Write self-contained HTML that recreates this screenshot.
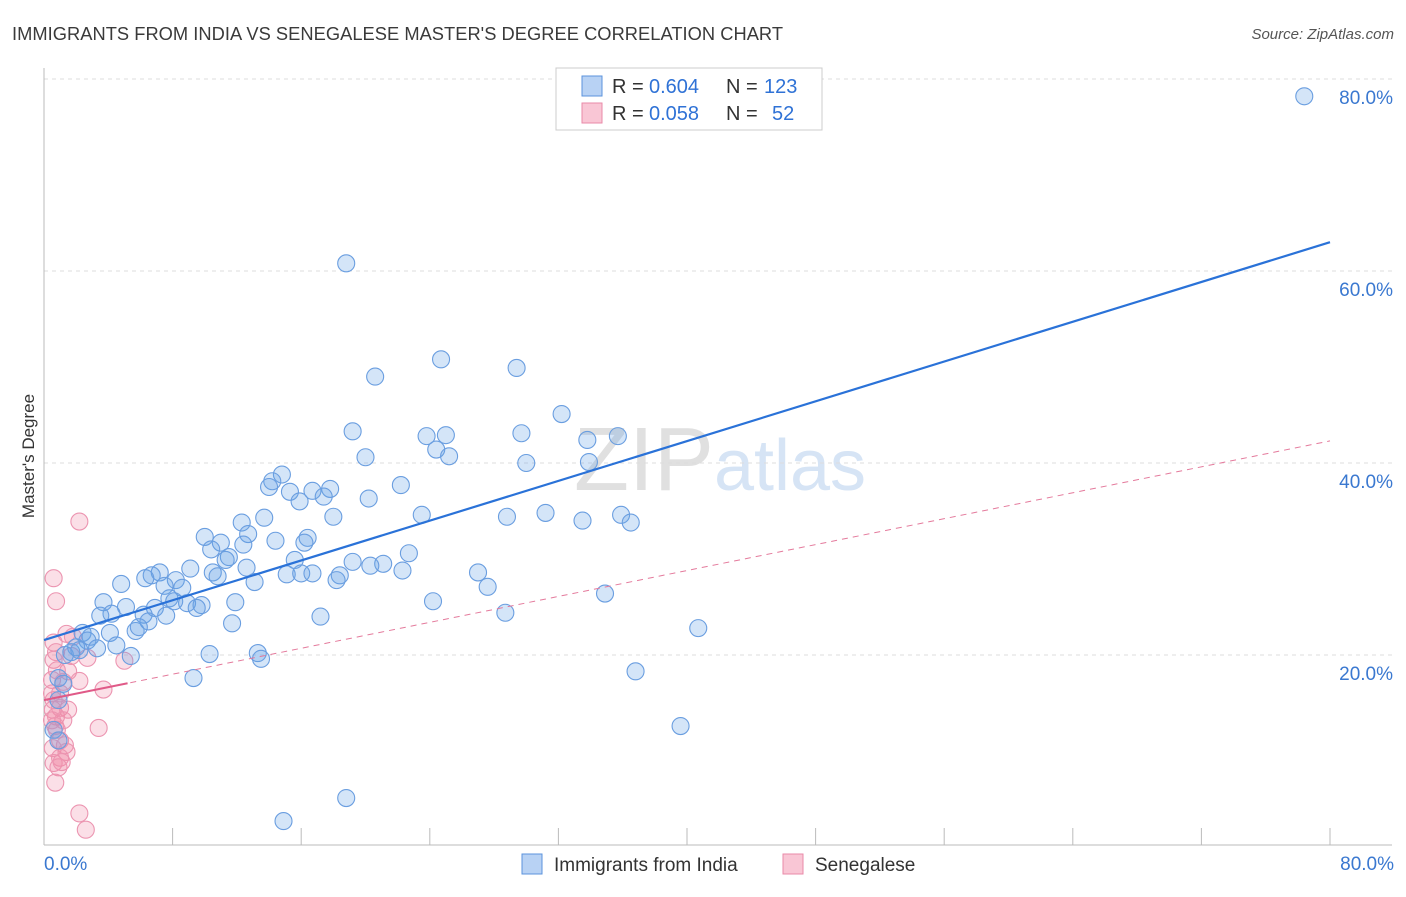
<!DOCTYPE html>
<html><head><meta charset="utf-8"><style>
body{margin:0;background:#fff;font-family:"Liberation Sans",sans-serif}
svg text{font-family:"Liberation Sans",sans-serif}
</style></head><body>
<svg id="chart" width="1406" height="892" xmlns="http://www.w3.org/2000/svg">
<text x="12" y="40" font-size="18.3" fill="#3a3a3a" textLength="771">IMMIGRANTS FROM INDIA VS SENEGALESE MASTER'S DEGREE CORRELATION CHART</text>
<text x="1394" y="39" font-size="15" fill="#555" text-anchor="end" font-style="italic">Source: ZipAtlas.com</text>
<text x="720" y="490" font-size="90" fill="#e0e0e0" text-anchor="middle" font-family="Liberation Serif">ZIP<tspan fill="#d6e4f5" font-family="Liberation Sans" font-size="72">atlas</tspan></text>
<text transform="translate(34,456) rotate(-90)" font-size="17" fill="#333" text-anchor="middle">Master's Degree</text>
<g id="grid"></g><g id="axes"></g><g id="pink"></g><g id="blue"></g><g id="lines"></g>
<g>
<rect x="556" y="68" width="266" height="62" fill="#fff" stroke="#ccc"/>
<rect x="582" y="76" width="20" height="20" fill="#b8d2f4" stroke="#5b93dc"/>
<rect x="582" y="103" width="20" height="20" fill="#f9c6d5" stroke="#e98aa8"/>
<text x="612" y="93" font-size="20" fill="#333">R =</text><text x="649" y="93" font-size="20" fill="#2f72d6">0.604</text>
<text x="726" y="93" font-size="20" fill="#333">N =</text><text x="764" y="93" font-size="20" fill="#2f72d6">123</text>
<text x="612" y="120" font-size="20" fill="#333">R =</text><text x="649" y="120" font-size="20" fill="#2f72d6">0.058</text>
<text x="726" y="120" font-size="20" fill="#333">N =</text><text x="772" y="120" font-size="20" fill="#2f72d6">52</text>
</g>
<g>
<rect x="522" y="854" width="20" height="20" fill="#b8d2f4" stroke="#5b93dc"/>
<text x="554" y="871" font-size="19" fill="#333">Immigrants from India</text>
<rect x="783" y="854" width="20" height="20" fill="#f9c6d5" stroke="#e98aa8"/>
<text x="815" y="871" font-size="19" fill="#333">Senegalese</text>
</g>
</svg>
<script>
const blueX=[78.4,18.8,24.7,29.4,20.6,32.2,19.2,23.8,25.0,29.7,33.8,35.7,24.4,25.2,20.0,30.0,33.9,14.8,14.2,14.0,22.2,15.3,16.7,17.8,17.4,15.9,20.2,13.7,12.3,18.0,23.5,28.8,31.2,33.5,35.9,36.5,10.0,12.7,16.4,14.4,16.2,11.0,12.4,10.4,11.5,11.3,22.7,15.6,19.2,21.1,20.3,22.3,12.6,9.1,10.5,7.2,6.7,6.3,15.1,16.0,16.7,18.4,18.2,27.0,10.8,8.2,13.1,4.8,7.5,8.6,27.6,7.8,8.9,9.8,11.9,24.2,34.9,3.7,5.1,6.9,8.1,9.5,4.2,3.5,6.2,7.6,28.7,17.2,6.5,11.7,5.7,5.9,4.1,40.7,2.4,2.9,2.7,2.0,3.3,4.5,1.3,1.7,2.2,5.4,10.3,13.3,13.5,36.8,9.3,0.9,1.2,0.9,0.6,0.9,39.6,18.8,14.9];
const blueY=[78.2,60.8,50.8,49.9,49.0,45.1,43.3,42.8,42.9,43.1,42.4,42.8,41.4,40.7,40.6,40.0,40.1,38.8,38.1,37.5,37.7,37.0,37.1,37.3,36.5,36.0,36.3,34.3,33.8,34.4,34.6,34.4,34.8,34.0,34.6,33.8,32.3,32.6,32.2,31.9,31.7,31.7,31.5,31.0,30.2,29.9,30.6,29.9,29.7,29.5,29.3,28.8,29.1,29.0,28.6,28.6,28.3,28.0,28.4,28.5,28.5,28.3,27.8,28.6,28.2,27.8,27.6,27.4,27.2,27.0,27.1,25.9,25.4,25.2,25.5,25.6,26.4,25.5,25.0,24.9,25.6,24.9,24.3,24.1,24.2,24.1,24.4,24.0,23.5,23.3,22.5,22.9,22.3,22.8,22.3,21.9,21.5,20.8,20.7,21.0,20.0,20.3,20.5,19.9,20.1,20.2,19.6,18.3,17.6,17.6,17.0,15.3,12.2,11.1,12.6,5.1,2.7];
const pinkX=[2.2,0.6,0.75,1.4,1.8,0.6,0.75,0.6,1.7,2.7,1.5,0.8,5.0,0.5,2.2,1.2,3.7,0.5,0.6,0.55,1.0,1.5,0.75,1.2,3.4,0.8,1.0,1.3,0.55,1.4,1.0,0.6,0.9,1.1,0.7,2.2,2.6,0.5,0.7,1.0];
const pinkY=[33.9,28.0,25.6,22.2,21.9,21.3,20.3,19.5,19.9,19.7,18.3,18.4,19.4,17.4,17.3,17.2,16.4,16.0,15.3,14.3,14.5,14.3,13.6,13.2,12.4,12.2,11.1,10.6,10.3,9.9,9.3,8.75,8.3,8.85,6.7,3.5,1.8,13.2,12.6,16.0];
const blueFit=[21.56,63.0];
const pinkFit=[15.3,42.3];
const yTicks=[20,40,60,80];
const NS="http://www.w3.org/2000/svg";
const X0=44,X1=1330,Y0=847,PY=9.6;
const sx=v=>X0+(X1-X0)*v/80, sy=v=>Y0-v*PY;
function mk(t,a,p){const e=document.createElementNS(NS,t);for(const k in a)e.setAttribute(k,a[k]);p.appendChild(e);return e;}
const grid=document.getElementById('grid'),axes=document.getElementById('axes');
yTicks.forEach(t=>{
 const l=mk('line',{x1:X0,x2:1392,y1:sy(t),y2:sy(t),stroke:'#ddd','stroke-dasharray':'4,4'},grid);
 
 
 const tx=mk('text',{x:1393,y:sy(t)+25,'font-size':19,fill:'#3a78d0','text-anchor':'end'},axes);
 tx.textContent=t.toFixed(1)+'%';
 
 
});
const ya=mk('line',{x1:X0,x2:X0,y1:68,y2:845,stroke:'#bbb'},axes);


const xa=mk('line',{x1:X0,x2:1392,y1:845,y2:845,stroke:'#bbb'},axes);


for(let i=1;i<=10;i++){const t=mk('line',{x1:sx(i*8),x2:sx(i*8),y1:828,y2:845,stroke:'#bbb'},axes);
 
 }
[[0,'0.0%','start',44],[80,'80.0%','end',1394]].forEach(d=>{const t=mk('text',{x:d[3],y:870,'font-size':19,fill:'#3a78d0','text-anchor':d[2]},axes);t.textContent=d[1];
 
 });
const pg=document.getElementById('pink'),bg=document.getElementById('blue'),lg=document.getElementById('lines');
pinkX.forEach((x,i)=>{const c=mk('circle',{cx:sx(x),cy:sy(pinkY[i]),r:8.5,fill:'rgba(240,140,170,0.28)',stroke:'#ec95b1','stroke-width':1.1},pg);
 
 });
blueX.forEach((x,i)=>{const c=mk('circle',{cx:sx(x),cy:sy(blueY[i]),r:8.5,fill:'rgba(100,160,230,0.28)',stroke:'#6a9ee0','stroke-width':1.1},bg);
 
 });
const pd=mk('line',{x1:sx(0),y1:sy(pinkFit[0]),x2:sx(80),y2:sy(pinkFit[1]),stroke:'#e47a9c','stroke-width':1,'stroke-dasharray':'6,5'},lg);


const pe=5.2, pl=mk('line',{x1:sx(0),y1:sy(pinkFit[0]),x2:sx(pe),y2:sy(pinkFit[0]+(pinkFit[1]-pinkFit[0])*pe/80),stroke:'#e05a88','stroke-width':2},lg);


const bl=mk('line',{x1:sx(0),y1:sy(blueFit[0]),x2:sx(80),y2:sy(blueFit[1]),stroke:'#2a72d8','stroke-width':2.2},lg);


</script>
</body></html>
